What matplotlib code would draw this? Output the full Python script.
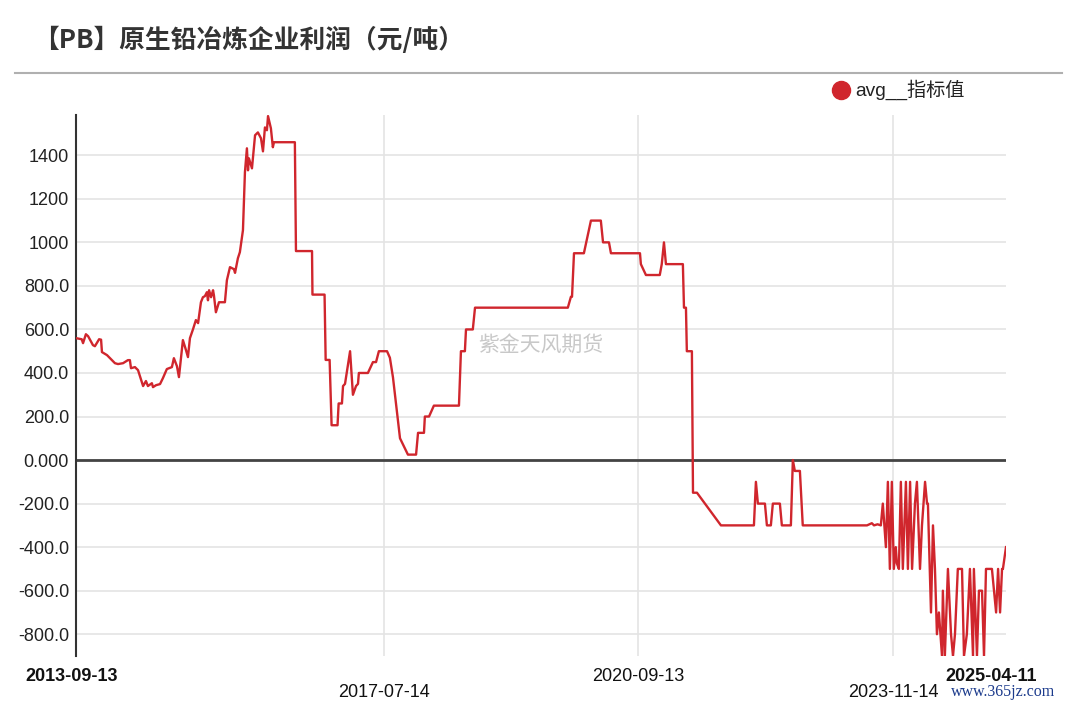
import numpy as np
import pandas as pd
import matplotlib
matplotlib.use("Agg")
import matplotlib.pyplot as plt
import matplotlib.dates as mdates
from matplotlib.lines import Line2D

plt.rcParams['font.family'] = ['Liberation Sans', 'Noto Sans CJK SC', 'DejaVu Sans']

# 原生铅冶炼企业利润 (元/吨)
dates = [
    "2013-09-13", "2013-10-09", "2013-10-15", "2013-10-28", "2013-11-07", "2013-11-29", "2013-12-08", "2013-12-27",
    "2014-01-05", "2014-01-09", "2014-02-01", "2014-03-09", "2014-03-23", "2014-04-15", "2014-05-07", "2014-05-16",
    "2014-05-21", "2014-06-08", "2014-06-22", "2014-07-15", "2014-07-28", "2014-08-06", "2014-08-24", "2014-08-29",
    "2014-09-12", "2014-09-30", "2014-10-13", "2014-10-31", "2014-11-23", "2014-12-02", "2014-12-16", "2014-12-25",
    "2015-01-12", "2015-01-26", "2015-02-04", "2015-02-13", "2015-02-27", "2015-03-12", "2015-03-22", "2015-04-04",
    "2015-04-13", "2015-04-22", "2015-05-01", "2015-05-06", "2015-05-11", "2015-05-20", "2015-05-29", "2015-06-02",
    "2015-06-11", "2015-06-25", "2015-07-22", "2015-07-31", "2015-08-14", "2015-09-01", "2015-09-06", "2015-09-19",
    "2015-09-28", "2015-10-12", "2015-10-21", "2015-10-30", "2015-11-04", "2015-11-08", "2015-11-22", "2015-12-06",
    "2015-12-19",
    "2016-01-02", "2016-01-11", "2016-01-20", "2016-01-29", "2016-02-03", "2016-02-16", "2016-02-25", "2016-03-01",
    "2016-06-04", "2016-06-09", "2016-08-21", "2016-08-23", "2016-10-17", "2016-10-22", "2016-11-09", "2016-11-18",
    "2016-12-15", "2016-12-20",
    "2017-01-04", "2017-01-09", "2017-01-18", "2017-02-10", "2017-02-23", "2017-03-09", "2017-03-18", "2017-03-22",
    "2017-05-02", "2017-05-25", "2017-06-08", "2017-06-21", "2017-07-28", "2017-08-10", "2017-08-24", "2017-09-25",
    "2017-10-31", "2017-12-07", "2017-12-16",
    "2018-01-12", "2018-01-16", "2018-02-04", "2018-02-26", "2018-06-20", "2018-06-29", "2018-07-17", "2018-07-22",
    "2018-08-22", "2018-09-01",
    "2019-10-28", "2019-11-11", "2019-11-16", "2019-11-25",
    "2020-01-09", "2020-02-10", "2020-03-26", "2020-04-05", "2020-05-02", "2020-05-11", "2020-09-20", "2020-09-24",
    "2020-10-17", "2020-12-19", "2020-12-28",
    "2021-01-07", "2021-01-16", "2021-04-03", "2021-04-08", "2021-04-17", "2021-04-21", "2021-05-14", "2021-05-19",
    "2021-06-06", "2021-09-23",
    "2022-02-20", "2022-03-01", "2022-03-10", "2022-04-11", "2022-04-20", "2022-05-08", "2022-05-17", "2022-06-18",
    "2022-06-27", "2022-08-07", "2022-08-16", "2022-08-25", "2022-09-17", "2022-09-30",
    "2023-07-19", "2023-08-10", "2023-08-20", "2023-09-05", "2023-09-20", "2023-09-29", "2023-10-13", "2023-10-22",
    "2023-10-31", "2023-11-09", "2023-11-18", "2023-11-27", "2023-12-02", "2023-12-11", "2023-12-20", "2023-12-29",
    "2024-01-12", "2024-01-21", "2024-01-31", "2024-02-09", "2024-02-22", "2024-03-02", "2024-03-16", "2024-03-25",
    "2024-04-08", "2024-04-17", "2024-04-21", "2024-05-05", "2024-05-14", "2024-05-23", "2024-06-01", "2024-06-10",
    "2024-06-24", "2024-06-28", "2024-07-07", "2024-07-21", "2024-08-04", "2024-08-13", "2024-08-22", "2024-09-04",
    "2024-09-23", "2024-10-02", "2024-10-15", "2024-10-29", "2024-11-12", "2024-11-16", "2024-11-30", "2024-12-09",
    "2024-12-23",
    "2025-01-01", "2025-01-10", "2025-02-06", "2025-02-25", "2025-03-06", "2025-03-15", "2025-03-24", "2025-03-28",
    "2025-04-11",
]
values = [
    560, 555, 537, 578, 569, 528, 523, 555,
    553, 496, 482, 445, 441, 445, 459, 459,
    422, 427, 413, 340, 363, 340, 353, 335,
    344, 349, 376, 418, 427, 468, 431, 381,
    551, 505, 473, 560, 601, 643, 629, 725,
    748, 753, 771, 734, 780, 748, 780, 757,
    679, 725, 725, 826, 886, 877, 860, 927,
    955, 1056, 1322, 1432, 1331, 1386, 1340, 1492,
    1505,
    1478, 1418, 1528, 1515, 1580, 1524, 1437, 1460,
    1460, 960, 960, 760, 760, 460, 460, 160,
    160, 260,
    260, 340, 350, 500, 300, 340, 350, 400,
    400, 450, 450, 500, 500, 470, 380, 100,
    25, 25, 125,
    125, 200, 200, 250, 250, 500, 500, 600,
    600, 700,
    700, 750, 750, 950,
    950, 1100, 1100, 1000, 1000, 950, 950, 900,
    850, 850, 900,
    1000, 900, 900, 700, 700, 500, 500, -150,
    -150, -300,
    -300, -100, -200, -200, -300, -300, -200, -200,
    -300, -300, 0, -50, -50, -300,
    -300, -290, -300, -295, -300, -200, -400, -100,
    -500, -100, -500, -400, -475, -500, -100, -500,
    -100, -500, -100, -500, -200, -100, -500, -300,
    -100, -200, -200, -700, -300, -500, -800, -700,
    -900, -600, -900, -500, -800, -900, -800, -500,
    -500, -900, -800, -500, -900, -500, -900, -600,
    -600,
    -900, -500, -500, -700, -500, -700, -500, -500,
    -400,
]

yticks = [-800, -600, -400, -200, 0, 200, 400, 600, 800, 1000, 1200, 1400]
ytick_labels = ["-800.0", "-600.0", "-400.0", "-200.0", "0.000", "200.0", "400.0",
                "600.0", "800.0", "1000", "1200", "1400"]
xtick_dates = ["2013-09-13", "2017-07-14", "2020-09-13", "2023-11-14", "2025-04-11"]

x = pd.to_datetime(dates)
start = pd.Timestamp("2013-09-13")
end = pd.Timestamp("2025-04-11")

fig = plt.figure(figsize=(10.8, 7.05), dpi=100)
ax = fig.add_axes([76 / 1080, 1 - 656 / 705, 930 / 1080, (656 - 115) / 705])

red = "#d0262d"
ax.plot(x, values, color=red, linewidth=1.7, zorder=3)

ax.set_xlim(start, end)
ax.set_ylim(-900, 1585)

ax.set_yticks(yticks)
ax.set_yticklabels(ytick_labels, fontsize=13, color="#222222")
ax.tick_params(axis="y", length=0, pad=5)
ax.grid(axis="y", color="#e4e4e4", linewidth=1.2)

# vertical grid at the inner date ticks
for d in xtick_dates[1:4]:
    ax.axvline(pd.Timestamp(d), color="#e4e4e4", linewidth=1.2, zorder=0)

ax.set_xticks([])
ax.axhline(0, color="#444444", linewidth=2, zorder=2)

for s in ["top", "right", "bottom"]:
    ax.spines[s].set_visible(False)
ax.spines["left"].set_color("#333333")
ax.spines["left"].set_linewidth(1.5)

# staggered date labels
row_off = [-14.5, -26.5, -14.5, -26.5, -14.5]
x_shift = [-3, 0, 0, 0, -11]
bold = [True, False, False, False, True]
for d, dy, dx, b in zip(xtick_dates, row_off, x_shift, bold):
    ax.annotate(d, xy=(mdates.date2num(pd.Timestamp(d)), 0), xycoords=("data", "axes fraction"),
                xytext=(dx, dy), textcoords="offset points", ha="center", va="center",
                fontsize=13, fontweight="bold" if b else "normal", color="#111111")

# title and separator
fig.text(33 / 1080, 1 - 40 / 705, "【PB】原生铅冶炼企业利润（元/吨）", fontsize=18.5, fontweight="bold",
         color="#333333", va="center", ha="left", family=["Noto Sans CJK SC", "DejaVu Sans"])
fig.add_artist(Line2D([15 / 1080, 1062 / 1080], [1 - 73 / 705, 1 - 73 / 705],
                      color="#b0b0b0", linewidth=1.5))

# legend
fig.add_artist(Line2D([841 / 1080], [1 - 90 / 705], marker="o", markersize=13, color=red, linestyle="none"))
fig.text(855 / 1080, 1 - 90 / 705, "avg__指标值", fontsize=13.8, color="#222222", va="center", ha="left")

# watermarks
ax.text(0.5, 0.575, "紫金天风期货", transform=ax.transAxes, fontsize=15, color="#c8c8c8",
        ha="center", va="center", family=["Noto Sans CJK SC", "DejaVu Sans"])
fig.text(1055 / 1080, 1 - 692 / 705, "www.365jz.com", fontsize=11.5, color="#1c3b8c",
         ha="right", va="center", family=["Liberation Serif", "DejaVu Serif"])

fig.savefig("out.png", dpi=100)
